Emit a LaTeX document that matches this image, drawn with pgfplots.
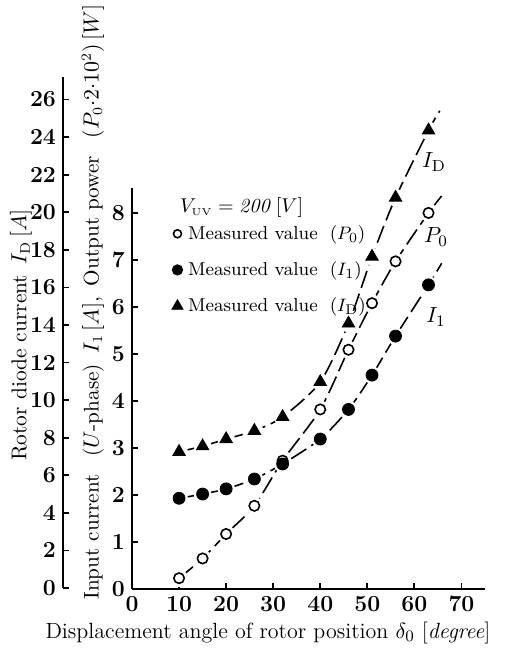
\documentclass[border=0pt]{standalone}
\usepackage{pgfplots}
\pgfplotsset{compat=1.18}
\begin{document}
\begin{tikzpicture}
\useasboundingbox (0pt,0pt) rectangle (256pt,-324.5pt);
\pgfplotsset{
  common/.style={
    scale only axis,
    axis line style={line width=1.3pt},
    tick style={line width=0.9pt, black},
    major tick length=3pt,
    tick align=inside,
    ticklabel style={font=\fontsize{11.5}{13}\selectfont\bfseries},
    /pgf/number format/assume math mode=true,
    clip=false,
  },
  curve/.style={black, line width=0.8pt, dash pattern=on 9pt off 3pt, smooth, tension=0.45, no marks},
  halo/.style={only marks, mark=*, mark size=4.2pt, mark options={draw=white, fill=white}},
}
% outer axis (I_D)
\begin{axis}[common,
  at={(31.5pt,-294pt)}, anchor=south west,
  width=211pt, height=255.5pt,
  xmin=-14.66, xmax=75, ymin=0, ymax=27.2,
  axis x line=none, axis y line*=left,
  ytick={0,2,...,26},
]
\addplot[curve] coordinates {(10,7.25)(15,7.55)(20,7.93)(26,8.37)(32,9.11)(40,10.97)(46,14.08)(51,17.64)(56,20.78)(63,24.36)(65.4,25.4)};
\addplot[halo] coordinates {(10,7.25)(15,7.55)(20,7.93)(26,8.37)(32,9.11)(40,10.97)(46,14.08)(51,17.64)(56,20.78)(63,24.36)};
\addplot[only marks, mark=triangle*, mark size=3.6pt, black] coordinates {(10,7.25)(15,7.55)(20,7.93)(26,8.37)(32,9.11)(40,10.97)(46,14.08)(51,17.64)(56,20.78)(63,24.36)};
\end{axis}
% inner axis (P0, I1)
\begin{axis}[common,
  at={(66pt,-294.5pt)}, anchor=south west,
  width=176.5pt, height=200.5pt,
  xmin=0, xmax=75, ymin=0, ymax=8.53,
  axis x line*=bottom, axis y line*=left,
  xtick={0,10,...,70}, ytick={0,1,...,8},
  legend style={draw=none, fill=none, at={(0.112,0.918)}, anchor=north west,
    font=\fontsize{9.3}{11}\selectfont, row sep=5.6pt, inner sep=0pt},
  legend cell align=left,
  legend image code/.code={\draw[#1] plot coordinates {(0pt,0pt)};},
]
\addplot[curve, forget plot] coordinates {(10,0.23)(15,0.65)(20,1.17)(26,1.77)(32,2.73)(40,3.82)(46,5.09)(51,6.08)(56,6.97)(63,8.0)(65.8,8.36)};
\addplot[curve, forget plot] coordinates {(10,1.93)(15,2.02)(20,2.13)(26,2.34)(32,2.66)(40,3.19)(46,3.82)(51,4.55)(56,5.38)(63,6.47)(65.8,6.93)};
\addplot[halo, forget plot] coordinates {(10,0.23)(15,0.65)(20,1.17)(26,1.77)(32,2.73)(40,3.82)(46,5.09)(51,6.08)(56,6.97)(63,8.0)};
\addplot[halo, forget plot] coordinates {(10,1.93)(15,2.02)(20,2.13)(26,2.34)(32,2.66)(40,3.19)(46,3.82)(51,4.55)(56,5.38)(63,6.47)};
\addplot[only marks, forget plot, mark=*, mark size=2.6pt, mark options={draw=black, fill=white, line width=0.8pt}] coordinates {(10,0.23)(15,0.65)(20,1.17)(26,1.77)(32,2.73)(40,3.82)(46,5.09)(51,6.08)(56,6.97)(63,8.0)};
\addplot[only marks, forget plot, mark=*, mark size=3pt, black] coordinates {(10,1.93)(15,2.02)(20,2.13)(26,2.34)(32,2.66)(40,3.19)(46,3.82)(51,4.55)(56,5.38)(63,6.47)};
\addlegendimage{only marks, mark=*, mark size=2pt, mark options={draw=black, fill=white, line width=0.8pt}}
\addlegendentry{\hspace{0.5pt}Measured value\hspace{6pt}($P_0$)}
\addlegendimage{only marks, mark=*, mark size=2.6pt, black}
\addlegendentry{\hspace{0.5pt}Measured value\hspace{6pt}($I_1$)}
\addlegendimage{only marks, mark=triangle*, mark size=3.2pt, black}
\addlegendentry{\hspace{0.5pt}Measured value\hspace{6pt}($I_{\mathrm{D}}$)}
\end{axis}
% labels
\node[rotate=90, font=\fontsize{10.7}{12}\selectfont] at (10.5pt,-167.5pt) {Rotor diode current\enspace$I_{\mathrm{D}}\,[A]$};
\node[rotate=90, font=\fontsize{10.6}{12}\selectfont] at (46.5pt,-151pt) {Input current\enspace\ ($U$-phase)\enspace$I_1\,[A]$,\enspace Output power\enspace\ $(P_0{\cdot}2{\cdot}10^2)\,[W]$};
\node[font=\fontsize{11}{13}\selectfont] at (134pt,-316.5pt) {Displacement angle of rotor position $\delta_0$ [\textit{degree}]};
\node[anchor=west, font=\fontsize{10}{12}\selectfont] at (86.5pt,-103.5pt) {$V_{\scriptscriptstyle\mathrm{UV}}=\mathit{200}\,[V]$};
\node[font=\fontsize{11}{13}\selectfont] at (217pt,-81pt) {$I_{\mathrm{D}}$};
\node[font=\fontsize{11}{13}\selectfont] at (218pt,-118.5pt) {$P_0$};
\node[font=\fontsize{11}{13}\selectfont] at (218pt,-158.5pt) {$I_1$};
\end{tikzpicture}
\end{document}
